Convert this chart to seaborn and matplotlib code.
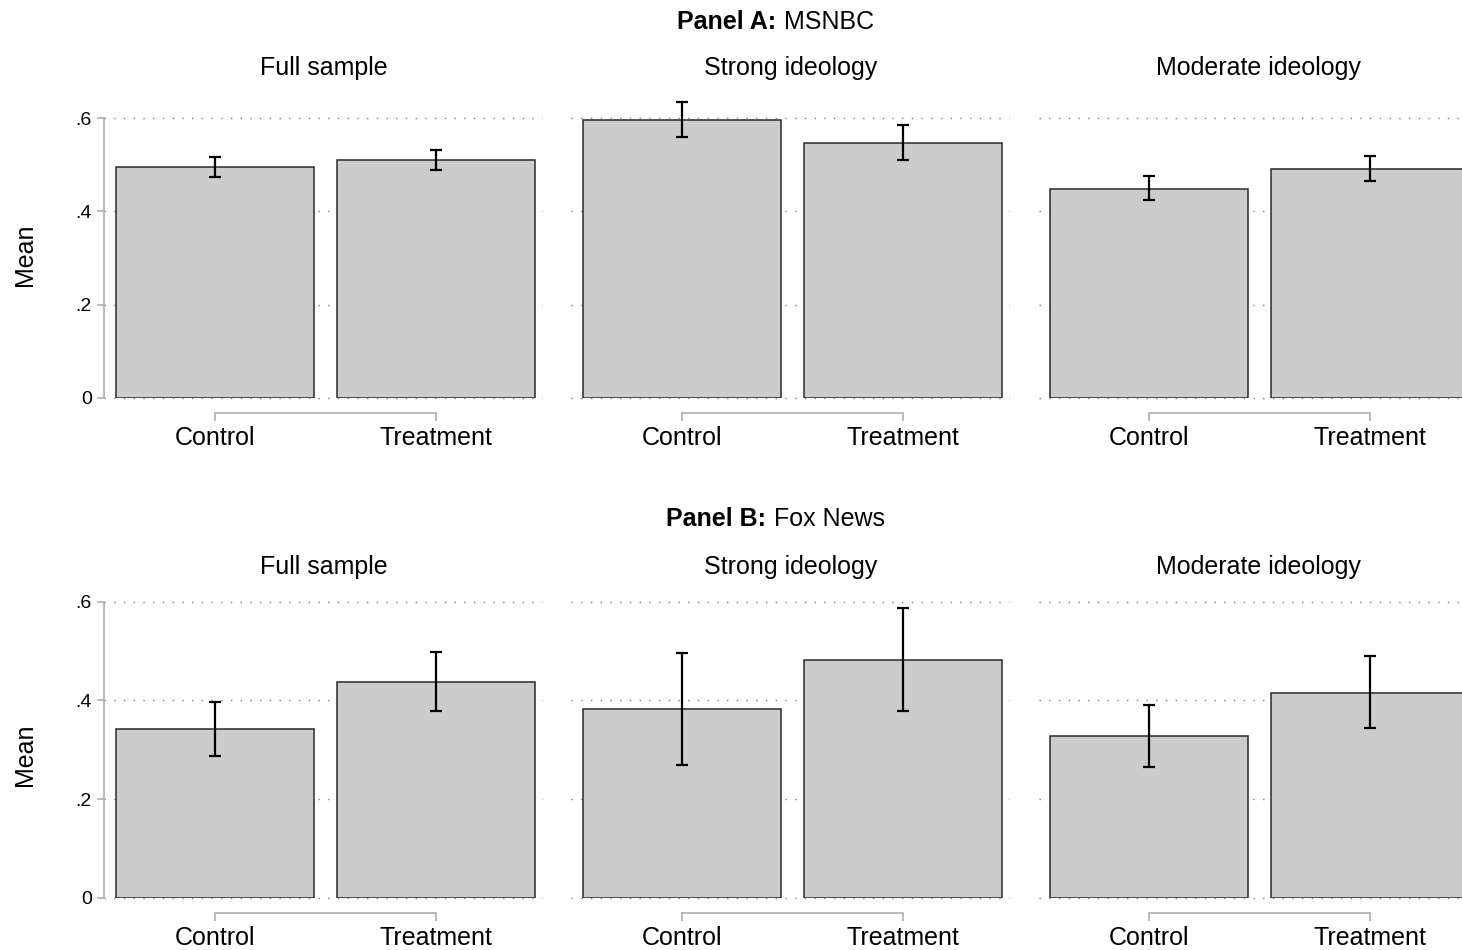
import numpy as np
import pandas as pd
import seaborn as sns
import matplotlib.pyplot as plt
from matplotlib.offsetbox import TextArea, HPacker, AnchoredOffsetbox

groups = ["Control", "Treatment"]
samples = ["Full sample", "Strong ideology", "Moderate ideology"]

# Panel A: MSNBC  (mean, lower CI, upper CI) per sample, control/treatment
msnbc_mean = [[0.496, 0.509], [0.596, 0.547], [0.448, 0.491]]
msnbc_lo = [[0.474, 0.489], [0.559, 0.509], [0.424, 0.466]]
msnbc_hi = [[0.517, 0.532], [0.634, 0.586], [0.476, 0.519]]

# Panel B: Fox News
fox_mean = [[0.341, 0.437], [0.382, 0.482], [0.327, 0.414]]
fox_lo = [[0.287, 0.379], [0.270, 0.379], [0.265, 0.343]]
fox_hi = [[0.397, 0.498], [0.497, 0.588], [0.391, 0.489]]

yticks = [0, 0.2, 0.4, 0.6]
ytick_labels = ["0", ".2", ".4", ".6"]

sns.set_style("white")
plt.rcParams['font.family'] = ['Liberation Sans', 'DejaVu Sans']
plt.rcParams['text.color'] = 'black'
plt.rcParams['xtick.labelcolor'] = 'black'
plt.rcParams['ytick.labelcolor'] = 'black'

W, H = 1462, 950
fig = plt.figure(figsize=(W / 100, H / 100), dpi=100)

axis_grey = '#a8a8a8'
panels = [
    ("Panel A:", "MSNBC", msnbc_mean, msnbc_lo, msnbc_hi, 398, 118, 22, 68, 255),
    ("Panel B:", "Fox News", fox_mean, fox_lo, fox_hi, 897.7, 601.7, 519, 567, 755),
]
lefts = [104.2, 571.2, 1038.8]
width_px = 437.6

for bold, rest, means, los, his, y0, y1, ty, sty, my in panels:
    # bold + regular title, centred as one block
    box = HPacker(children=[TextArea(bold, textprops=dict(fontsize=18, fontweight='bold', color='black')),
                            TextArea(rest, textprops=dict(fontsize=18, color='black'))],
                  align='baseline', pad=0, sep=6)
    anch = AnchoredOffsetbox(loc='center', child=box, frameon=False, pad=0, borderpad=0,
                             bbox_to_anchor=(775.5 / W, 1 - ty / H), bbox_transform=fig.transFigure)
    fig.add_artist(anch)
    fig.text(25 / W, 1 - my / H, "Mean", ha='center', va='center', rotation=90, fontsize=18)
    for j, s in enumerate(samples):
        ax = fig.add_axes([lefts[j] / W, 1 - y0 / H, width_px / W, (y0 - y1) / H])
        df = pd.DataFrame({"group": groups, "mean": means[j]})
        sns.barplot(data=df, x="group", y="mean", ax=ax, color='#cccccc',
                    edgecolor='#2a2a2a', linewidth=1.1, width=0.895,
                    saturation=1, errorbar=None, zorder=2)
        m = np.array(means[j])
        err = [m - np.array(los[j]), np.array(his[j]) - m]
        ax.errorbar(range(len(groups)), m, yerr=err, fmt='none', ecolor='black',
                    elinewidth=1.6, capsize=4, capthick=1.6, clip_on=False, zorder=3)
        ax.set_xlim(-0.5, 1.48)
        ax.set_ylim(0, 0.6)
        ax.set_yticks(yticks)
        ax.yaxis.grid(True, linestyle=(0, (1, 6)), color='#808080', linewidth=1.0)
        for gl in ax.get_ygridlines():
            gl.set_clip_on(False)
        ax.set_axisbelow(True)
        ax.set_xlabel("")
        ax.set_ylabel("")
        for side in ['top', 'right']:
            ax.spines[side].set_visible(False)
        ax.spines['bottom'].set_position(('outward', 11))
        ax.spines['bottom'].set_bounds(0, 1)
        ax.spines['bottom'].set_color(axis_grey)
        ax.spines['bottom'].set_linewidth(1.1)
        ax.tick_params(axis='x', direction='out', length=6, width=1.1, color=axis_grey,
                       labelsize=18, pad=3.5, bottom=True)
        if j == 0:
            ax.spines['left'].set_bounds(0, 0.6)
            ax.spines['left'].set_color(axis_grey)
            ax.spines['left'].set_linewidth(1.1)
            ax.set_yticklabels(ytick_labels)
            ax.tick_params(axis='y', direction='out', length=5, width=1.1, color=axis_grey,
                           labelsize=14, pad=4, left=True)
        else:
            ax.spines['left'].set_visible(False)
            ax.tick_params(axis='y', left=False, labelleft=False)
        fig.text((lefts[j] + width_px / 2 + 1) / W, 1 - sty / H, s,
                 ha='center', va='center', fontsize=18)

fig.savefig("out.png", dpi=100)
